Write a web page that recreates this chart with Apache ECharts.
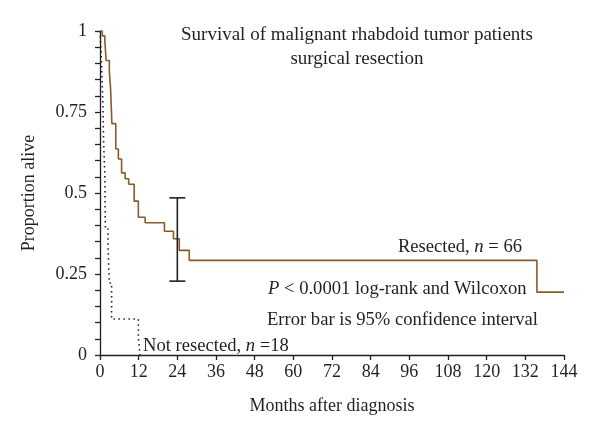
<!DOCTYPE html>
<html><head><meta charset="utf-8">
<script src="https://cdn.jsdelivr.net/npm/echarts@6/dist/echarts.min.js"></script>
<style>html,body{margin:0;padding:0;background:#fff}#c{width:600px;height:439px}</style>
</head><body><div id="c"></div>
<script>
// Resected (n = 66) Kaplan-Meier steps: month, proportion alive
const resectedMonths = [0, 0.7, 1.5, 1.9, 2.9, 3.3, 3.7, 4.9, 5.7, 6.7, 7.8, 8.9, 10.6, 11.9, 14.0, 20.0, 22.8, 24.6, 27.7, 135.6, 144];
const resectedSurv   = [1.0, 0.985, 0.97, 0.909, 0.876, 0.82, 0.714, 0.636, 0.605, 0.562, 0.544, 0.527, 0.475, 0.425, 0.408, 0.382, 0.359, 0.323, 0.292, 0.194, 0.194];
// Not resected (n = 18)
const notResMonths = [0, 0.3, 0.5, 0.7, 0.9, 1.0, 1.1, 1.3, 1.5, 1.55, 1.6, 1.65, 2.5, 2.9, 3.6, 11.9, 12.4];
const notResSurv   = [1.0, 0.944, 0.889, 0.833, 0.778, 0.722, 0.667, 0.611, 0.556, 0.5, 0.444, 0.389, 0.333, 0.222, 0.111, 0.056, 0];
// 95% CI error bar
const errMonth = [24];
const errLow = [0.228];
const errHigh = [0.485];
// axes
const xTicks = [0, 12, 24, 36, 48, 60, 72, 84, 96, 108, 120, 132, 144];
const yTicks = [0, 0.25, 0.5, 0.75, 1];

const FONT = 'Liberation Serif';
const INK = '#231f20';
const BROWN = '#8b5a2b';
const AF = 18.6;

const chart = echarts.init(document.getElementById('c'), null, {renderer: 'canvas'});
const rich = {r: {fontFamily: FONT, fontSize: AF, fill: INK}, i: {fontFamily: FONT, fontSize: AF, fontStyle: 'italic', fill: INK}};
chart.setOption({
  animation: false,
  backgroundColor: '#fff',
  grid: {left: 100, right: 36, top: 31, bottom: 84, containLabel: false},
  xAxis: {
    type: 'value', min: xTicks[0], max: xTicks[xTicks.length - 1], interval: 12,
    name: 'Months after diagnosis', nameLocation: 'middle', nameGap: 42,
    nameTextStyle: {fontFamily: FONT, fontSize: 18, color: INK},
    axisLine: {show: true, lineStyle: {color: INK, width: 1.3}},
    axisTick: {show: true, inside: false, length: 5, lineStyle: {color: INK, width: 1.3}},
    axisLabel: {fontFamily: FONT, fontSize: 18, color: INK, margin: 8},
    splitLine: {show: false}
  },
  yAxis: {
    type: 'value', min: yTicks[0], max: yTicks[yTicks.length - 1], interval: 0.25,
    name: 'Proportion alive', nameLocation: 'middle', nameGap: 62, nameRotate: 90,
    nameTextStyle: {fontFamily: FONT, fontSize: 18, color: INK},
    axisLine: {show: true, lineStyle: {color: INK, width: 1.3}},
    axisTick: {show: true, inside: false, length: 5, lineStyle: {color: INK, width: 1.3}},
    minorTick: {show: true, splitNumber: 5, length: 5, lineStyle: {color: INK, width: 1.3}},
    axisLabel: {fontFamily: FONT, fontSize: 18, color: INK, margin: 13, formatter: v => String(v)},
    splitLine: {show: false}
  },
  series: [
    {
      type: 'line', name: 'Resected', step: 'end', showSymbol: false,
      data: resectedMonths.map((m, i) => [m, resectedSurv[i]]),
      lineStyle: {color: BROWN, width: 1.6}, z: 3
    },
    {
      type: 'line', name: 'Not resected', step: 'end', showSymbol: false,
      data: notResMonths.map((m, i) => [m, notResSurv[i]]),
      lineStyle: {color: INK, width: 1.6, type: [1.5, 3.5]}, z: 2
    },
    {
      type: 'custom', name: 'CI',
      data: errMonth.map((m, i) => [m, errLow[i], errHigh[i]]),
      renderItem: function (params, api) {
        const lo = api.coord([api.value(0), api.value(1)]);
        const hi = api.coord([api.value(0), api.value(2)]);
        const w = 8;
        const st = {stroke: INK, lineWidth: 1.6};
        return {type: 'group', children: [
          {type: 'line', shape: {x1: lo[0], y1: lo[1], x2: hi[0], y2: hi[1]}, style: st},
          {type: 'line', shape: {x1: hi[0] - w, y1: hi[1], x2: hi[0] + w, y2: hi[1]}, style: st},
          {type: 'line', shape: {x1: lo[0] - w, y1: lo[1], x2: lo[0] + w, y2: lo[1]}, style: st}
        ]};
      },
      z: 4
    }
  ],
  graphic: [
    {type: 'text', x: 357, y: 35, style: {text: 'Survival of malignant rhabdoid tumor patients', font: '19px "' + FONT + '"', fill: INK, textAlign: 'center', textVerticalAlign: 'middle'}},
    {type: 'text', x: 357, y: 59, style: {text: 'surgical resection', font: '19px "' + FONT + '"', fill: INK, textAlign: 'center', textVerticalAlign: 'middle'}},
    {type: 'text', x: 522, y: 247, style: {text: '{r|Resected, }{i|n}{r| = 66}', textAlign: 'right', textVerticalAlign: 'middle', rich: rich}},
    {type: 'text', x: 268, y: 289, style: {text: '{i|P}{r| < 0.0001 log-rank and Wilcoxon}', textAlign: 'left', textVerticalAlign: 'middle', rich: rich}},
    {type: 'text', x: 538, y: 320, style: {text: 'Error bar is 95% confidence interval', textAlign: 'right', textVerticalAlign: 'middle', font: AF + 'px "' + FONT + '"', fill: INK}},
    {type: 'text', x: 143, y: 346, style: {text: '{r|Not resected, }{i|n}{r| =18}', textAlign: 'left', textVerticalAlign: 'middle', rich: rich}}
  ]
});
</script>
</body></html>
